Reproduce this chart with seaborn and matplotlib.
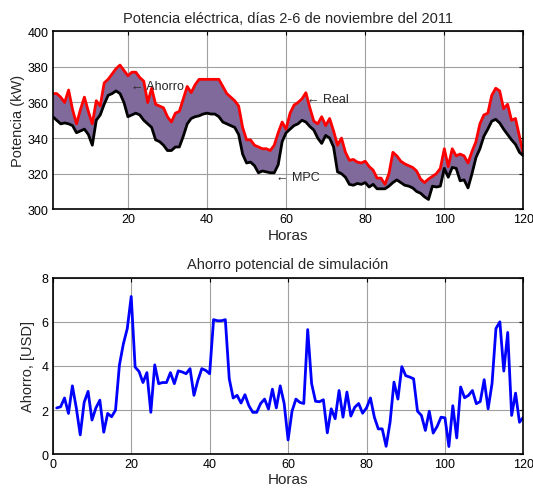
import numpy as np
import pandas as pd
import seaborn as sns
import matplotlib.pyplot as plt

# hourly data, days 2-6 November 2011
horas = np.arange(1, 121)

real_kw = [365, 365, 363, 360, 367, 356, 348, 356, 363, 355,
           348, 361, 358, 371, 373, 376, 379, 381, 378, 375,
           377, 377, 374, 372, 360, 368, 359, 358, 357, 352,
           349, 354, 355, 362, 369, 365.5, 370, 373, 373, 373,
           373, 373, 373, 369, 365, 363, 361, 358, 346, 339,
           339, 336, 335, 334, 334, 333, 336, 343, 349, 345,
           354, 358.5, 360, 362, 365.5, 357, 349.5, 348, 352, 347,
           351, 344, 336, 340, 332, 327.5, 328, 326.5, 326, 327,
           324, 322, 317.5, 317.5, 314, 320, 332, 330, 327, 325.5,
           324.5, 323.5, 321.5, 317, 315, 317, 318.5, 320, 323, 334,
           324, 334, 330, 331, 330, 326, 332.5, 338, 348, 353,
           354, 364, 368, 366.5, 356.5, 359, 350, 351, 341, 331]

mpc_kw = [352, 350, 348, 348.5, 348, 347, 343, 344, 345, 342,
          336, 350, 353, 359, 364, 365, 366.5, 365, 360, 352,
          353, 354, 353, 350, 348, 346, 339, 338, 336, 333,
          333, 335, 335, 341, 348, 351, 352, 352.5, 353.5, 354,
          353.5, 353.5, 352, 349, 348, 347, 346, 342, 331, 326,
          326.5, 324.5, 320.5, 321.5, 321, 320.5, 320.5, 325, 338, 343,
          345, 347, 348, 350, 349, 346.5, 344.5, 340, 337, 341.5,
          340, 335, 321, 320, 318, 314, 313.5, 314.5, 314, 315,
          312.5, 314, 311.5, 311.5, 311.5, 313, 315, 316.5, 315, 313.5,
          313, 312, 310, 309, 307, 305.5, 313, 312.5, 313, 323,
          318, 323.5, 323, 316, 316.5, 312, 320, 329, 334, 341,
          345, 349.5, 350.5, 348.5, 345, 342, 339, 336.5, 332, 330]

ahorro_usd = [2.1, 2.15, 2.55, 1.85, 3.1, 2.1, 0.88, 2.35, 2.85, 1.55,
              2.1, 2.45, 1.0, 1.85, 1.7, 2.0, 4.05, 5.0, 5.7, 7.15,
              3.95, 3.75, 3.25, 3.7, 1.9, 4.05, 3.2, 3.25, 3.25, 3.7,
              3.2, 3.78, 3.73, 3.65, 3.88, 2.67, 3.35, 3.88, 3.8, 3.65,
              6.1, 6.05, 6.05, 6.1, 3.42, 2.55, 2.67, 2.32, 2.7, 2.2,
              1.9, 1.9, 2.3, 2.5, 2.05, 2.95, 2.1, 3.1, 2.3, 0.65,
              1.95, 2.5, 2.35, 2.3, 5.65, 3.2, 2.4, 2.38, 2.47, 0.97,
              2.06, 1.61, 2.89, 1.68, 2.82, 1.73, 2.13, 2.3, 1.86, 2.1,
              2.55, 1.68, 1.15, 1.15, 0.36, 1.45, 3.27, 2.5, 3.97, 3.56,
              3.5, 3.42, 1.95, 1.76, 1.08, 1.95, 0.96, 1.26, 1.68, 1.65,
              0.35, 2.2, 0.74, 3.05, 2.56, 2.67, 2.89, 2.29, 2.39, 3.38,
              2.06, 3.2, 5.7, 6.0, 3.77, 5.52, 1.76, 2.77, 1.45, 1.68]

df = pd.DataFrame({"Horas": horas, "Real": real_kw, "MPC": mpc_kw, "Ahorro": ahorro_usd})

sns.set_style("white")
plt.rcParams['font.family'] = ['Liberation Sans', 'DejaVu Sans']

fig = plt.figure(figsize=(5.33, 4.89), dpi=100)
ax1 = fig.add_axes([0.099, 0.570, 0.883, 0.364])
ax2 = fig.add_axes([0.099, 0.069, 0.883, 0.361])


def style_axes(ax):
    ax.grid(True, color='#a0a0a0', linewidth=0.8)
    ax.tick_params(direction='in', top=True, right=True, length=3, labelsize=9, pad=3,
                   colors='black')
    for s in ax.spines.values():
        s.set_color('black')
        s.set_linewidth(1.2)


# top: power
ax1.fill_between(df["Horas"], df["MPC"], df["Real"], color='#7f6a9b', linewidth=0)
sns.lineplot(data=df, x="Horas", y="Real", ax=ax1, color='#ff0000', linewidth=2)
sns.lineplot(data=df, x="Horas", y="MPC", ax=ax1, color='black', linewidth=2)
ax1.set_xlim(1, 120)
ax1.set_ylim(300, 400)
ax1.set_xticks(range(20, 121, 20))
ax1.set_yticks(range(300, 401, 20))
style_axes(ax1)
ax1.set_title("Potencia eléctrica, días 2-6 de noviembre del 2011", fontsize=10.5, pad=7)
ax1.set_xlabel("Horas", fontsize=11, labelpad=2)
ax1.set_ylabel("Potencia (kW)", fontsize=10.5, labelpad=2)
ax1.text(20.7, 369, "← Ahorro", fontsize=9, va='center', ha='left')
ax1.text(65.3, 362, "← Real", fontsize=9, va='center', ha='left')
ax1.text(57.5, 318, "← MPC", fontsize=9, va='center', ha='left')

# bottom: savings
sns.lineplot(data=df, x="Horas", y="Ahorro", ax=ax2, color='#0000ff', linewidth=2)
ax2.set_xlim(0, 120)
ax2.set_ylim(0, 8)
ax2.set_xticks(range(0, 121, 20))
ax2.set_yticks(range(0, 9, 2))
style_axes(ax2)
ax2.set_title("Ahorro potencial de simulación", fontsize=10.5, pad=7)
ax2.set_xlabel("Horas", fontsize=11, labelpad=1)
ax2.set_ylabel("Ahorro, [USD]", fontsize=10.5, labelpad=5)

fig.savefig("out.png", dpi=100)
